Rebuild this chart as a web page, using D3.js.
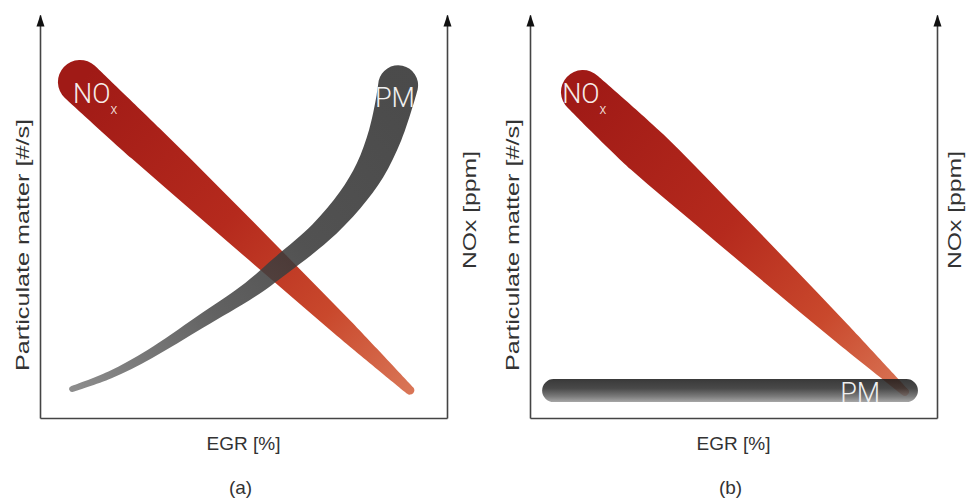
<!DOCTYPE html>
<html>
<head>
<meta charset="utf-8">
<script src="https://cdn.jsdelivr.net/npm/d3@7"></script>
<style>
  body { margin: 0; background: #fff; }
  text { font-family: "Liberation Sans", Arial, sans-serif; }
</style>
</head>
<body>
<script>
// each band point: [EGR %, emission level, band spread] (all in 0-100 chart units)
let noxBandA = [[9.8, 83.4, 10.9], [26.0, 68.1, 10.2], [42.3, 52.8, 8.7], [58.5, 37.5, 6.9],
                [74.7, 22.2, 5.0], [90.9, 6.9, 2.2]]
let pmBandA = [[7.9, 7.2, 1.5], [17.2, 10.7, 1.85], [27.0, 15.9, 2.3], [39.3, 23.8, 3.2],
               [51.6, 31.8, 4.2], [59.0, 37.7, 5.0], [68.8, 45.9, 5.7], [76.2, 54.1, 6.5],
               [81.1, 61.5, 7.4], [84.8, 70.2, 8.4], [87.2, 78.9, 9.4], [88.0, 82.6, 9.9]]
let noxBandB = [[13.0, 80.9, 10.9], [28.8, 66.0, 11.9], [44.7, 51.1, 9.9], [60.5, 36.2, 7.7],
                [76.3, 21.3, 5.2], [92.1, 6.5, 2.0]]
let pmBandB = [[5.8, 6.8, 5.7], [92.5, 6.8, 5.7]]

let xLabel = "EGR [%]"
let yLabelLeft = "Particulate matter [#/s]"
let yLabelRight = "NOx [ppm]"

let width = 966, height = 501
let svg = d3.select("body").append("svg").attr("width", width).attr("height", height)
let defs = svg.append("defs")

//arrow head for the vertical axes
defs.append("marker")
  .attr("id", "arrow")
  .attr("viewBox", "0 -5 12 10")
  .attr("refX", 11)
  .attr("refY", 0)
  .attr("markerUnits", "userSpaceOnUse")
  .attr("markerWidth", 12)
  .attr("markerHeight", 10)
  .attr("orient", "auto")
  .append("path")
  .attr("d", "M0,-4L12,0L0,4Z")
  .attr("fill", "#111")

let panels = [
  {id: "a", left: 40, right: 447, nox: noxBandA, pm: pmBandA, pmFlat: false,
   noLab: [8.1, 78.2], pmLab: [82.3, 77.2], tag: "(a)", rightGap: 29},
  {id: "b", left: 530, right: 937, nox: noxBandB, pm: pmBandB, pmFlat: true,
   noLab: [7.9, 78.2], pmLab: [76.2, 4.0], tag: "(b)", rightGap: 24}
]

let plotTop = 15, plotBottom = 418

// builds a closed outline around a centre line with varying width and round caps
function bandPath(pts, xs, ys) {
  let k = ys(0) - ys(1)
  let p = pts.map(d => [xs(d[0]), ys(d[1]), d[2] * k / 2])
  let n = p.length
  let normals = p.map((d, i) => {
    let a = p[Math.max(0, i - 1)], b = p[Math.min(n - 1, i + 1)]
    let tx = b[0] - a[0], ty = b[1] - a[1]
    let len = Math.hypot(tx, ty)
    return [-ty / len, tx / len]
  })
  let leftPts = p.map((d, i) => [d[0] + normals[i][0] * d[2], d[1] + normals[i][1] * d[2]])
  let rightPts = p.map((d, i) => [d[0] - normals[i][0] * d[2], d[1] - normals[i][1] * d[2]]).reverse()
  let line = d3.line().curve(d3.curveCatmullRom.alpha(0.5))
  let s1 = line(leftPts)
  let s2 = line(rightPts).replace(/^M[^A-Za-z]*/, "")
  let rEnd = p[n - 1][2], rStart = p[0][2]
  return s1 + "A" + rEnd + "," + rEnd + " 0 0 0 " + rightPts[0][0] + "," + rightPts[0][1] +
    s2 + "A" + rStart + "," + rStart + " 0 0 0 " + leftPts[0][0] + "," + leftPts[0][1] + "Z"
}

function alongGradient(id, pts, xs, ys, stops) {
  let g = defs.append("linearGradient")
    .attr("id", id)
    .attr("gradientUnits", "userSpaceOnUse")
    .attr("x1", xs(pts[0][0])).attr("y1", ys(pts[0][1]))
    .attr("x2", xs(pts[pts.length - 1][0])).attr("y2", ys(pts[pts.length - 1][1]))
  stops.forEach(s => g.append("stop").attr("offset", s[0]).attr("stop-color", s[1]))
}

// shaded tube for the flat PM bar
let tube = defs.append("linearGradient").attr("id", "tube").attr("x1", 0).attr("y1", 0).attr("x2", 0).attr("y2", 1)
tube.append("stop").attr("offset", 0).attr("stop-color", "#1c1c1c")
tube.append("stop").attr("offset", 0.4).attr("stop-color", "#2e2e2e")
tube.append("stop").attr("offset", 0.75).attr("stop-color", "#666")
tube.append("stop").attr("offset", 1).attr("stop-color", "#9a9a9a")

panels.forEach(pn => {
  let x = d3.scaleLinear().domain([0, 100]).range([pn.left, pn.right])
  let y = d3.scaleLinear().domain([0, 100]).range([plotBottom, plotTop])
  let g = svg.append("g")

  //NOx band
  alongGradient("nox" + pn.id, pn.nox, x, y,
    [[0, "#a01a16"], [0.45, "#b52a1d"], [0.75, "#c9482c"], [1, "#d97556"]])
  g.append("path")
    .attr("d", bandPath(pn.nox, x, y))
    .attr("fill", "url(#nox" + pn.id + ")")

  //PM band
  if (!pn.pmFlat) {
    alongGradient("pm" + pn.id, pn.pm, x, y,
      [[0, "#7c7c7c"], [0.35, "#4a4a4a"], [0.6, "#383838"], [1, "#303030"]])
  }
  g.append("path")
    .attr("d", bandPath(pn.pm, x, y))
    .attr("fill", pn.pmFlat ? "url(#tube)" : "url(#pm" + pn.id + ")")
    .attr("fill-opacity", 0.87)

  //labels inside the bands
  let no = g.append("text")
    .attr("x", x(pn.noLab[0])).attr("y", y(pn.noLab[1]))
    .style("font-family", "Roboto, 'Liberation Sans', sans-serif")
    .style("font-weight", 300)
    .style("font-size", "27px")
    .attr("fill", "#f6ece9")
  no.append("tspan").text("NO")
  no.append("tspan").attr("dy", 11).style("font-size", "14px").text("x")

  g.append("text")
    .attr("x", x(pn.pmLab[0])).attr("y", y(pn.pmLab[1]))
    .style("font-family", "Roboto, 'Liberation Sans', sans-serif")
    .style("font-weight", 300)
    .style("font-size", "27px")
    .attr("fill", "#f0f0f0")
    .text("PM")

  //axes (no ticks, just the lines)
  let axisStyle = sel => sel.select(".domain").attr("stroke", "#444").attr("stroke-width", 1.6)
  g.append("g")
    .attr("transform", "translate(" + pn.left + ",0)")
    .call(d3.axisLeft(y).ticks(0).tickSizeOuter(0))
    .call(axisStyle)
    .select(".domain").attr("marker-end", "url(#arrow)")
  g.append("g")
    .attr("transform", "translate(" + pn.right + ",0)")
    .call(d3.axisRight(y).ticks(0).tickSizeOuter(0))
    .call(axisStyle)
    .select(".domain").attr("marker-end", "url(#arrow)")
  g.append("g")
    .attr("transform", "translate(0," + plotBottom + ")")
    .call(d3.axisBottom(x).ticks(0).tickSizeOuter(0))
    .call(axisStyle)

  //axis titles
  let mid = (pn.left + pn.right) / 2
  g.append("text")
    .attr("x", mid).attr("y", 450)
    .attr("text-anchor", "middle")
    .style("font-size", "19px")
    .attr("fill", "#333")
    .text(xLabel)
  g.append("text")
    .attr("x", mid - 3).attr("y", 494)
    .attr("text-anchor", "middle")
    .style("font-size", "19px")
    .attr("fill", "#333")
    .text(pn.tag)
  g.append("text")
    .attr("transform", "translate(" + (pn.left - 11) + ",245) rotate(-90)")
    .attr("text-anchor", "middle")
    .style("font-size", "19px")
    .attr("fill", "#333")
    .attr("textLength", 252)
    .attr("lengthAdjust", "spacingAndGlyphs")
    .text(yLabelLeft)
  g.append("text")
    .attr("transform", "translate(" + (pn.right + pn.rightGap) + ",210) rotate(-90)")
    .attr("text-anchor", "middle")
    .style("font-size", "19px")
    .attr("fill", "#333")
    .attr("textLength", 118)
    .attr("lengthAdjust", "spacingAndGlyphs")
    .text(yLabelRight)
})
</script>
</body>
</html>
